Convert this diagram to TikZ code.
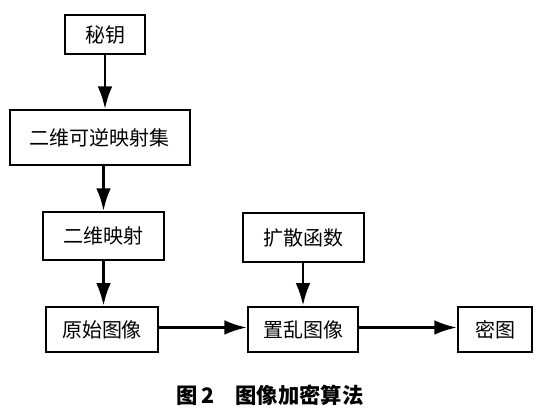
\documentclass[tikz,border=0pt]{standalone}
\usepackage{fontspec}
\newfontfamily\cjk{Noto Sans CJK SC}
\usepackage{tikz}
\usetikzlibrary{arrows.meta,positioning,calc}
\tikzset{
	blk/.style={draw, line width=1.5pt, minimum height=34pt,
		inner sep=2pt, align=center, font=\cjk\fontsize{15}{18}\selectfont},
	flow/.style={line width=2.2pt, ->},
	captxt/.style={font=\cjk\bfseries\fontsize{16}{19}\selectfont, inner sep=0pt},
}

\begin{document}
\begin{tikzpicture}[x=0.75pt, y=-0.75pt, >={Latex[length=17pt,width=11pt]}]
				\useasboundingbox (0,0) rectangle (551,413);
				\node[blk, minimum width=60pt, minimum height=29pt] at (105,34.5) (key) {秘钥};
				\node[blk, minimum width=135pt, minimum height=41pt] at (100,137.5) (mapset) {二维可逆映射集};
				\node[blk, minimum width=91pt, minimum height=36pt] at (103.5,236) (map) {二维映射};
				\node[blk, minimum width=84pt] at (102,329.5) (orig) {原始图像};
				\node[blk, minimum width=91pt, minimum height=37pt] at (303.5,237.5) (diff) {扩散函数};
				\node[blk, minimum width=82.5pt] at (303,329.5) (scram) {置乱图像};
				\node[blk, minimum width=55.5pt] at (495,329.5) (cipher) {密图};
				\draw[flow] (key.south) -- (key.south |- mapset.north);
				\draw[flow] (mapset.south -| map) -- (map.north);
				\draw[flow] (map.south) -- (map.south |- orig.north);
				\draw[flow] ($(orig.east)+(0,-2)$) -- ($(scram.west)+(0,-2)$);
				\draw[flow] (diff.south -| scram) -- (scram.north);
				\draw[flow] ($(scram.east)+(0,-2)$) -- ($(cipher.west)+(0,-2)$);
				\node[captxt] at (270,395) (caption) {图\,2\quad 图像加密算法};
			\end{tikzpicture}
\end{document}
